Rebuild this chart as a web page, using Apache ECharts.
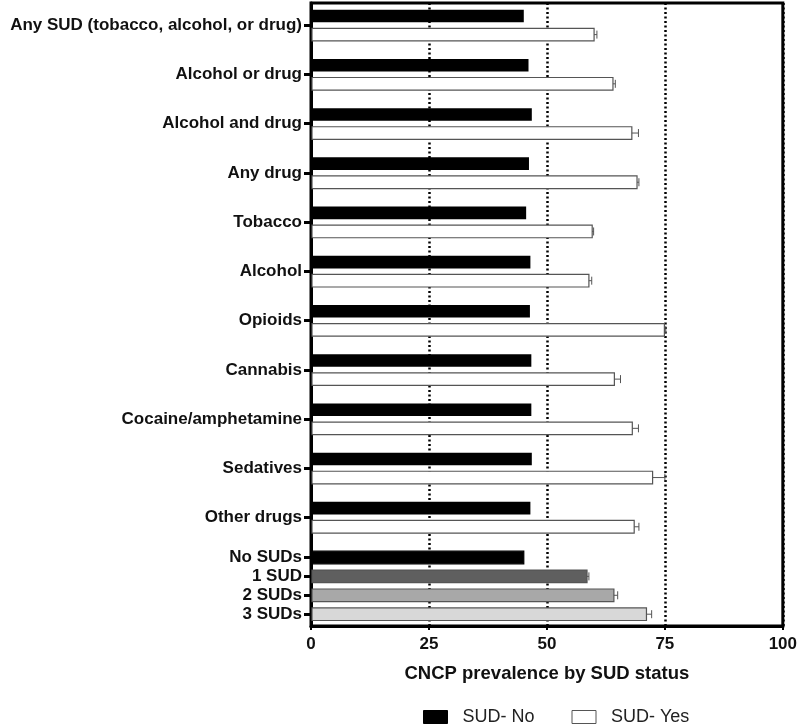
<!DOCTYPE html>
<html>
<head>
<meta charset="utf-8">
<script src="https://cdn.jsdelivr.net/npm/echarts@6/dist/echarts.min.js"></script>
<style>html,body{margin:0;padding:0;background:#fff;}#c{width:800px;height:728px;}</style>
</head>
<body>
<div id="c"></div>
<script>
// ---- data ----
var categories = ['Any SUD (tobacco, alcohol, or drug)', 'Alcohol or drug', 'Alcohol and drug', 'Any drug', 'Tobacco', 'Alcohol', 'Opioids', 'Cannabis', 'Cocaine/amphetamine', 'Sedatives', 'Other drugs'];
var sudNo = [45.1, 46.1, 46.8, 46.2, 45.6, 46.5, 46.4, 46.7, 46.7, 46.8, 46.5];
var sudYes = [60.0, 64.0, 68.0, 69.1, 59.6, 58.9, 74.9, 64.3, 68.1, 72.4, 68.5];
var sudYesErr = [0.6, 0.5, 1.4, 0.4, 0.3, 0.6, 0.3, 1.3, 1.3, 2.6, 1.0];
var countCategories = ['No SUDs', '1 SUD', '2 SUDs', '3 SUDs'];
var countValues = [45.1, 58.5, 64.2, 71.1];
var countErr = [0, 0.4, 0.8, 1.1];
var xTicks = [0, 25, 50, 75, 100];

// ---- layout (axis units along y) ----
function mainPos(i) { return i; }
function countPos(j) { return 10.813 + 0.384 * j; }
var labelPos = [], labelText = [];
categories.forEach(function (c, i) { labelPos.push(mainPos(i)); labelText.push(c); });
countCategories.forEach(function (c, j) { labelPos.push(countPos(j)); labelText.push(c); });
function labelFor(v) {
  for (var k = 0; k < labelPos.length; k++) if (Math.abs(labelPos[k] - v) < 1e-6) return labelText[k];
  return '';
}

var FONT = 'Arial, "Liberation Sans", sans-serif';
var BAR_H = 12.6;
var OFF = 9.3;

function errShapes(api, x0, x1, yc, capH, color) {
  return [
    { type: 'line', shape: { x1: x0, y1: yc, x2: x1, y2: yc }, style: { stroke: color, lineWidth: 1 } },
    { type: 'line', shape: { x1: x1, y1: yc - capH / 2, x2: x1, y2: yc + capH / 2 }, style: { stroke: color, lineWidth: 1 } }
  ];
}

var noData = sudNo.map(function (v, i) { return [v, mainPos(i)]; });
var yesData = sudYes.map(function (v, i) { return [v, mainPos(i), sudYesErr[i]]; });
var countData = countValues.map(function (v, j) { return [v, countPos(j), countErr[j], j]; });
var countFills = ['#000000', '#5f5f5f', '#a8a8a8', '#d8d8d8'];

var chart = echarts.init(document.getElementById('c'), null, { renderer: 'canvas' });
chart.setOption({
  animation: false,
  backgroundColor: '#fff',
  grid: { left: 311, right: 15, top: 3, bottom: 102, show: true, borderColor: '#000', borderWidth: 3, backgroundColor: 'transparent' },
  xAxis: {
    type: 'value', min: 0, max: 100, interval: 25,
    axisLine: { show: true, onZero: false, lineStyle: { color: '#000', width: 3 } },
    axisTick: { show: true, length: 4, lineStyle: { color: '#000', width: 2 } },
    axisLabel: { color: '#111', fontFamily: FONT, fontWeight: 'bold', fontSize: 17, margin: 10 },
    splitLine: { show: true, lineStyle: { color: '#000', width: 2.5, type: [2, 2.5] } },
    name: 'CNCP prevalence by SUD status', nameLocation: 'middle', nameGap: 38,
    nameTextStyle: { color: '#111', fontFamily: FONT, fontWeight: 'bold', fontSize: 18.5 }
  },
  yAxis: {
    type: 'value', inverse: true, min: -0.453, max: 12.205,
    axisLine: { show: true, onZero: false, lineStyle: { color: '#000', width: 3 } },
    axisTick: { show: true, length: 7, customValues: labelPos, lineStyle: { color: '#000', width: 3 } },
    axisLabel: { show: true, customValues: labelPos, formatter: function (v) { return labelFor(v); }, color: '#111', fontFamily: FONT, fontWeight: 'bold', fontSize: 17, margin: 9 },
    splitLine: { show: false }
  },
  legend: {
    left: 418, top: 703, itemWidth: 24, itemHeight: 13, itemGap: 37, icon: 'rect',
    textStyle: { color: '#222', fontFamily: FONT, fontSize: 18, padding: [0, 0, 0, 10] },
    data: [
      { name: 'SUD- No', itemStyle: { color: '#000', borderColor: '#000', borderWidth: 1 } },
      { name: 'SUD- Yes', itemStyle: { color: '#fff', borderColor: '#555', borderWidth: 1 } }
    ]
  },
  series: [
    {
      name: 'SUD- No', type: 'custom', z: 3, data: noData,
      itemStyle: { color: '#000' },
      renderItem: function (params, api) {
        var p0 = api.coord([0, api.value(1)]);
        var p1 = api.coord([api.value(0), api.value(1)]);
        var yc = p0[1] - OFF;
        return { type: 'rect', shape: { x: p0[0], y: yc - BAR_H / 2, width: p1[0] - p0[0], height: BAR_H }, style: { fill: '#000' } };
      }
    },
    {
      name: 'SUD- Yes', type: 'custom', z: 3, data: yesData,
      itemStyle: { color: '#fff', borderColor: '#555' },
      renderItem: function (params, api) {
        var v = api.value(0), pos = api.value(1), e = api.value(2);
        var p0 = api.coord([0, pos]);
        var p1 = api.coord([v, pos]);
        var pe = api.coord([v + e, pos]);
        var yc = p0[1] + OFF;
        var children = [{ type: 'rect', shape: { x: p0[0] + 1, y: yc - BAR_H / 2, width: p1[0] - p0[0] - 1, height: BAR_H }, style: { fill: '#fff', stroke: '#555', lineWidth: 1.2 } }];
        children = children.concat(errShapes(api, p1[0], pe[0], yc, 8, '#555'));
        return { type: 'group', children: children };
      }
    },
    {
      name: 'count', type: 'custom', z: 3, data: countData,
      renderItem: function (params, api) {
        var v = api.value(0), pos = api.value(1), e = api.value(2), j = api.value(3);
        var p0 = api.coord([0, pos]);
        var p1 = api.coord([v, pos]);
        var pe = api.coord([v + e, pos]);
        var yc = p0[1];
        var fill = countFills[j];
        var children = [{ type: 'rect', shape: { x: p0[0] + 1, y: yc - BAR_H / 2, width: p1[0] - p0[0] - 1, height: BAR_H }, style: { fill: fill, stroke: j === 0 ? '#000' : '#555', lineWidth: 1.2 } }];
        if (e > 0) children = children.concat(errShapes(api, p1[0], pe[0], yc, 8, '#555'));
        return { type: 'group', children: children };
      }
    }
  ]
});
</script>
</body>
</html>
